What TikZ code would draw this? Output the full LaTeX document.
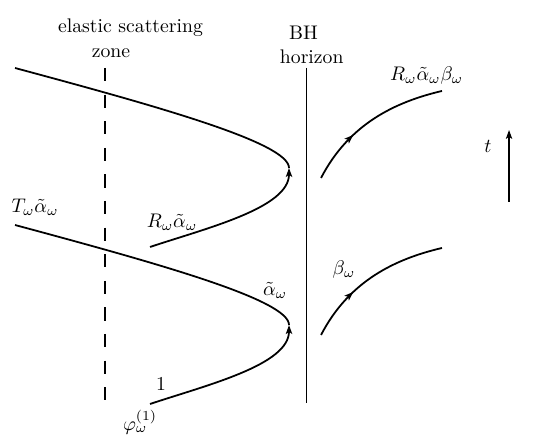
\documentclass[tikz,border=0pt]{standalone}
\usepackage{amsmath,amssymb}
\usepackage{tikz}
\usetikzlibrary{arrows.meta,decorations.markings}

\begin{document}
\begin{tikzpicture}[scale=1.0,
  wave/.style={line width=0.9pt},
  wall/.style={line width=0.65pt},
  tip/.style={-{Stealth[length=4.5pt,width=3.2pt,inset=1pt]}},
  midtip/.style={postaction={decorate},
    decoration={markings,mark=at position 0.35 with {\arrow{Stealth[length=4.5pt,width=3.2pt,inset=1pt]}}}}]
  \useasboundingbox (0,0) rectangle (9.687,7.778);
  \coordinate (zoneT) at (1.873,6.565);
  \coordinate (zoneB) at (1.873,0.589);
  \coordinate (horT) at (5.471,6.565);
  \coordinate (horB) at (5.471,0.589);
  \draw[wall,dash pattern=on 6.75pt off 6.75pt] (zoneT) -- (zoneB);
  \draw[wall] (horT) -- (horB);
  \foreach \i/\s in {1/0,2/-2.801} {
    \begin{scope}[yshift=\s cm]
      \coordinate (in\i) at (0.268,6.565);
      \coordinate (turn\i) at (5.156,4.781);
      \coordinate (out\i) at (2.676,3.372);
      \coordinate (bh\i) at (5.727,4.603);
      \coordinate (far\i) at (7.885,6.155);
      \draw[wave,tip] (out\i) .. controls (3.693,3.711) and (5.156,4.068) .. (turn\i);
      \draw[wave] (turn\i) .. controls (5.156,5.227) and (2.854,5.869) .. (in\i);
      \draw[wave,midtip] (bh\i) .. controls (6.226,5.566) and (7.047,5.959) .. (far\i);
    \end{scope}
  }
  \coordinate (tlow) at (9.081,4.175);
  \coordinate (thigh) at (9.081,5.459);
  \draw[wall,tip] (tlow) -- (thigh);
  \node (tlab) at (8.706,5.174) {$t$};
  \node[anchor=base] (esz) at (2.328,7.207) {elastic scattering};
  \node[anchor=base] (zone) at (1.980,6.761) {zone};
  \node[anchor=base] (bhlab) at (5.414,7.065) {BH};
  \node[anchor=base] (horlab) at (5.561,6.654) {horizon};
  \node (rab) at (7.612,6.422) {$R_\omega\tilde{\alpha}_\omega\beta_\omega$};
  \node (ta) at (0.624,4.076) {$T_\omega\tilde{\alpha}_\omega$};
  \node (ra) at (3.068,3.809) {$R_\omega\tilde{\alpha}_\omega$};
  \node (a) at (4.906,2.605) {$\tilde{\alpha}_\omega$};
  \node (b) at (6.137,2.961) {$\beta_\omega$};
  \node (one) at (2.872,0.928) {$1$};
  \node[anchor=north,inner sep=0pt] (phi) at (2.498,0.475) {$\varphi_\omega^{(1)}$};
\end{tikzpicture}
\end{document}
